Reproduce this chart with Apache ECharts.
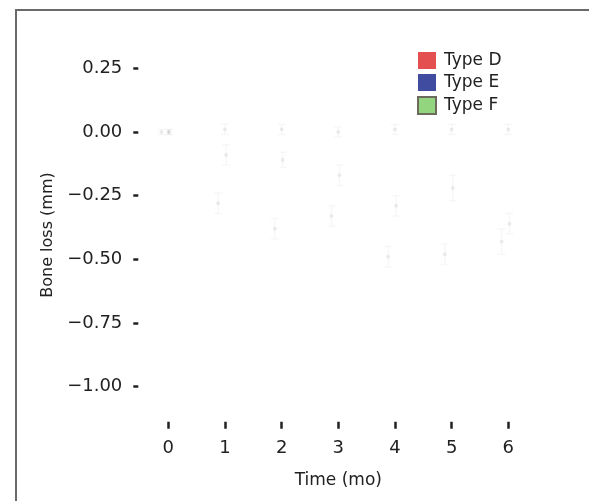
<!DOCTYPE html>
<html><head><meta charset="utf-8">
<script src="https://cdn.jsdelivr.net/npm/echarts@6/dist/echarts.min.js"></script>
<style>
html,body{margin:0;padding:0;background:#fff;}
#frame{position:absolute;left:15px;top:9px;width:700px;height:700px;border-top:2px solid #6a6a6a;border-left:2px solid #6a6a6a;}
#chart{position:absolute;left:0;top:0;width:589px;height:501px;}
</style></head><body>
<div id="frame"></div><div id="chart"></div>
<script>
// ---- data ----
const months = [0, 1, 2, 3, 4, 5, 6];
const xTickLabels = ['0', '1', '2', '3', '4', '5', '6'];
const typeD = [0.00, -0.09, -0.11, -0.17, -0.29, -0.22, -0.36];
const typeDErr = [0.01, 0.04, 0.03, 0.04, 0.04, 0.05, 0.04];
const typeE = [0.00, -0.28, -0.38, -0.33, -0.49, -0.48, -0.43];
const typeEErr = [0.01, 0.04, 0.04, 0.04, 0.04, 0.04, 0.05];
const typeF = [0.00, 0.01, 0.01, 0.00, 0.01, 0.01, 0.01];
const typeFErr = [0.01, 0.02, 0.02, 0.02, 0.02, 0.02, 0.02];
const yTickValues = [-1, -0.75, -0.5, -0.25, 0, 0.25];
const yTickLabels = ['\u22121.00', '\u22120.75', '\u22120.50', '\u22120.25', '0.00', '0.25'];
const seriesNames = ['Type D', 'Type E', 'Type F'];
const legendColors = ['#e44f4f', '#3f4c9f', '#93d47f'];

// ---- chart ----
const FONT = 'DejaVu Sans';
const dodge = [0.02, -0.12, 0.0];
const vals = [typeD, typeE, typeF];
const errs = [typeDErr, typeEErr, typeFErr];
const markColor = 'rgba(0,0,0,0.09)';
const barColor = 'rgba(0,0,0,0.03)';

function errRender(params, api) {
  const x = api.value(0), lo = api.value(1), hi = api.value(2);
  const p1 = api.coord([x, hi]), p2 = api.coord([x, lo]);
  const w = 4;
  const st = { stroke: barColor, lineWidth: 1.5 };
  return { type: 'group', children: [
    { type: 'line', shape: { x1: p1[0], y1: p1[1], x2: p2[0], y2: p2[1] }, style: st },
    { type: 'line', shape: { x1: p1[0] - w, y1: p1[1], x2: p1[0] + w, y2: p1[1] }, style: st },
    { type: 'line', shape: { x1: p2[0] - w, y1: p2[1], x2: p2[0] + w, y2: p2[1] }, style: st }
  ]};
}

const series = [];
seriesNames.forEach((name, k) => {
  series.push({
    name: name, type: 'custom', renderItem: errRender, silent: true,
    data: months.map((m, i) => [m + dodge[k], vals[k][i] - errs[k][i], vals[k][i] + errs[k][i]]),
    encode: { x: 0, y: [1, 2] }, z: 1
  });
  series.push({
    name: name, type: 'scatter', symbol: 'circle', symbolSize: 4,
    itemStyle: { color: markColor },
    data: months.map((m, i) => [m + dodge[k], vals[k][i]]), z: 2
  });
});

const chart = echarts.init(document.getElementById('chart'), null, { renderer: 'canvas' });
chart.setOption({
  backgroundColor: 'transparent',
  animation: false,
  textStyle: { fontFamily: FONT },
  grid: { left: 138.3, right: 50.7, top: 48.3, bottom: 79.3, containLabel: false },
  legend: {
    orient: 'vertical', left: 417, top: 52, padding: 0,
    itemWidth: 18, itemHeight: 17, itemGap: 5,
    textStyle: { fontFamily: FONT, fontSize: 17, color: '#222', padding: [0, 0, 0, 3] },
    data: [
      { name: seriesNames[0], icon: 'rect', itemStyle: { color: legendColors[0], opacity: 1, borderWidth: 0 } },
      { name: seriesNames[1], icon: 'rect', itemStyle: { color: legendColors[1], opacity: 1, borderWidth: 0 } },
      { name: seriesNames[2], icon: 'rect', itemStyle: { color: legendColors[2], opacity: 1, borderColor: '#6b6b5e', borderWidth: 2 } }
    ]
  },
  xAxis: {
    type: 'value', min: -0.529, max: 6.529,
    axisLine: { show: false, onZero: false }, splitLine: { show: false },
    axisTick: { show: true, customValues: months, length: 7, lineStyle: { color: '#222', width: 2.5 } },
    axisLabel: { customValues: months, formatter: v => xTickLabels[months.indexOf(Math.round(v))],
      margin: 18, fontSize: 18, color: '#222', fontFamily: FONT },
    name: 'Time (mo)', nameLocation: 'middle', nameGap: 50,
    nameTextStyle: { fontSize: 17, color: '#222', fontFamily: FONT }
  },
  yAxis: {
    type: 'value', min: -1.1374, max: 0.3284,
    axisLine: { show: false, onZero: false }, splitLine: { show: false },
    axisTick: { show: true, customValues: yTickValues, length: 5, lineStyle: { color: '#222', width: 2.5 } },
    axisLabel: { customValues: yTickValues,
      formatter: v => { let best = 0; yTickValues.forEach((t, i) => { if (Math.abs(t - v) < Math.abs(yTickValues[best] - v)) best = i; }); return yTickLabels[best]; },
      margin: 16, fontSize: 18, color: '#222', fontFamily: FONT, padding: [6, 0, 0, 0] },
    name: 'Bone loss (mm)', nameLocation: 'middle', nameRotate: 90, nameGap: 80,
    nameTextStyle: { fontSize: 16, color: '#222', fontFamily: FONT }
  },
  series: series
});
</script>
</body></html>
